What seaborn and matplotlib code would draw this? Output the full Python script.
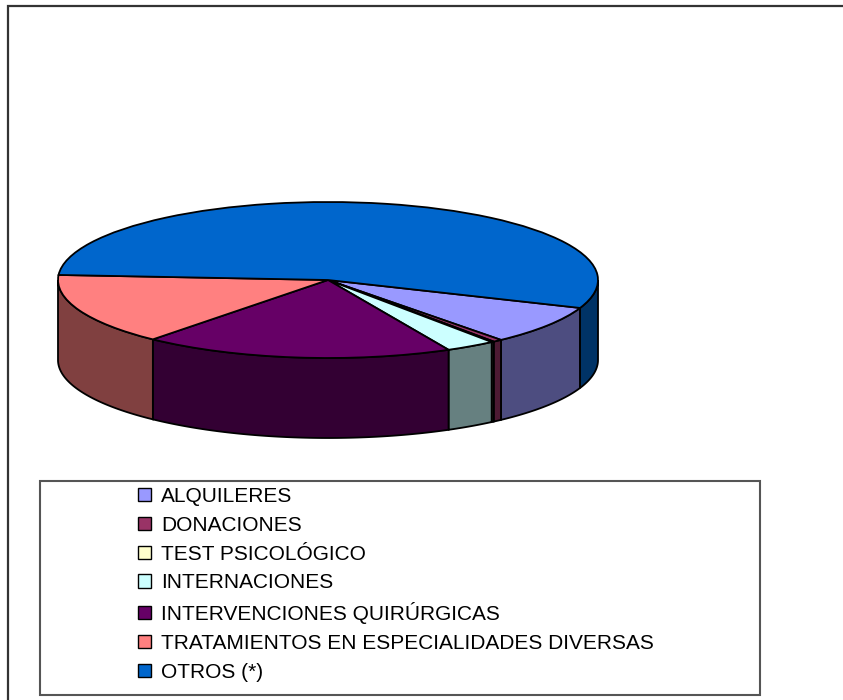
import numpy as np
import matplotlib
matplotlib.use('Agg')
import matplotlib.pyplot as plt
import matplotlib.patches as mpatches
import matplotlib.colors as mcolors
import seaborn as sns

categories = ['ALQUILERES', 'DONACIONES', 'TEST PSICOLÓGICO', 'INTERNACIONES',
              'INTERVENCIONES QUIRÚRGICAS', 'TRATAMIENTOS EN ESPECIALIDADES DIVERSAS',
              'OTROS (*)']
shares = [8.1, 0.55, 0.15, 3.0, 18.6, 14.8, 54.8]
top_colors = ['#9999FF', '#993366', '#FFFFCC', '#CCFFFF', '#660066', '#FF8080', '#0066CC']

sns.set_theme(style='white')
plt.rcParams['font.family'] = ['Liberation Sans', 'DejaVu Sans']
plt.rcParams['text.color'] = 'black'

W, H = 843, 700
fig = plt.figure(figsize=(W / 100, H / 100), dpi=100)
ax = fig.add_axes([0, 0, 1, 1])

# pie geometry in pixels (center, radii of the tilted disc, thickness)
cx_px, cy_px, rx_px, ry_px, depth_px = 328, 280, 270, 78, 80
depth = depth_px / ry_px

wedges, _ = ax.pie(shares, colors=top_colors, startangle=-21, counterclock=False,
                   wedgeprops=dict(edgecolor='black', linewidth=1.3))


def side_color(c):
    r, g, b = mcolors.to_rgb(c)
    return (r * 0.5, g * 0.5, b * 0.5)


# side walls: only the front half of each slice is visible
for w, c in zip(wedges, top_colors):
    t1, t2 = w.theta1, w.theta2
    for k in (-2, -1, 0, 1):
        lo = max(t1, 180 + 360 * k)
        hi = min(t2, 360 + 360 * k)
        if hi - lo <= 0:
            continue
        t = np.radians(np.linspace(lo, hi, 80))
        xs = np.concatenate([np.cos(t), np.cos(t[::-1])])
        ys = np.concatenate([np.sin(t), np.sin(t[::-1]) - depth])
        ax.fill(xs, ys, facecolor=side_color(c), edgecolor='black',
                linewidth=1.3, zorder=0.5)

ax.set_aspect('auto')
ax.set_xlim(-cx_px / rx_px, (W - cx_px) / rx_px)
ax.set_ylim(-(H - cy_px) / ry_px, cy_px / ry_px)
ax.axis('off')

# outer chart border (cropped on right and bottom)
fig.add_artist(mpatches.Rectangle((8 / W, -0.1), 1.2, 1.1 - 6 / H, transform=fig.transFigure,
                                  fill=False, edgecolor='#333333', linewidth=1.6))
# legend box
fig.add_artist(mpatches.Rectangle((40 / W, 1 - 695 / H), 720 / W, 214 / H,
                                  transform=fig.transFigure, fill=False,
                                  edgecolor='#555555', linewidth=1.5))

handles = [mpatches.Patch(facecolor=c, edgecolor='black', linewidth=1) for c in top_colors]
fig.legend(handles, categories, loc='upper left', bbox_to_anchor=(138 / W, 1 - 487 / H),
           frameon=False, fontsize=15, handlelength=0.6, handleheight=0.6,
           handletextpad=0.5, labelspacing=0.47, borderpad=0, borderaxespad=0)

fig.savefig('out.png', dpi=100)
